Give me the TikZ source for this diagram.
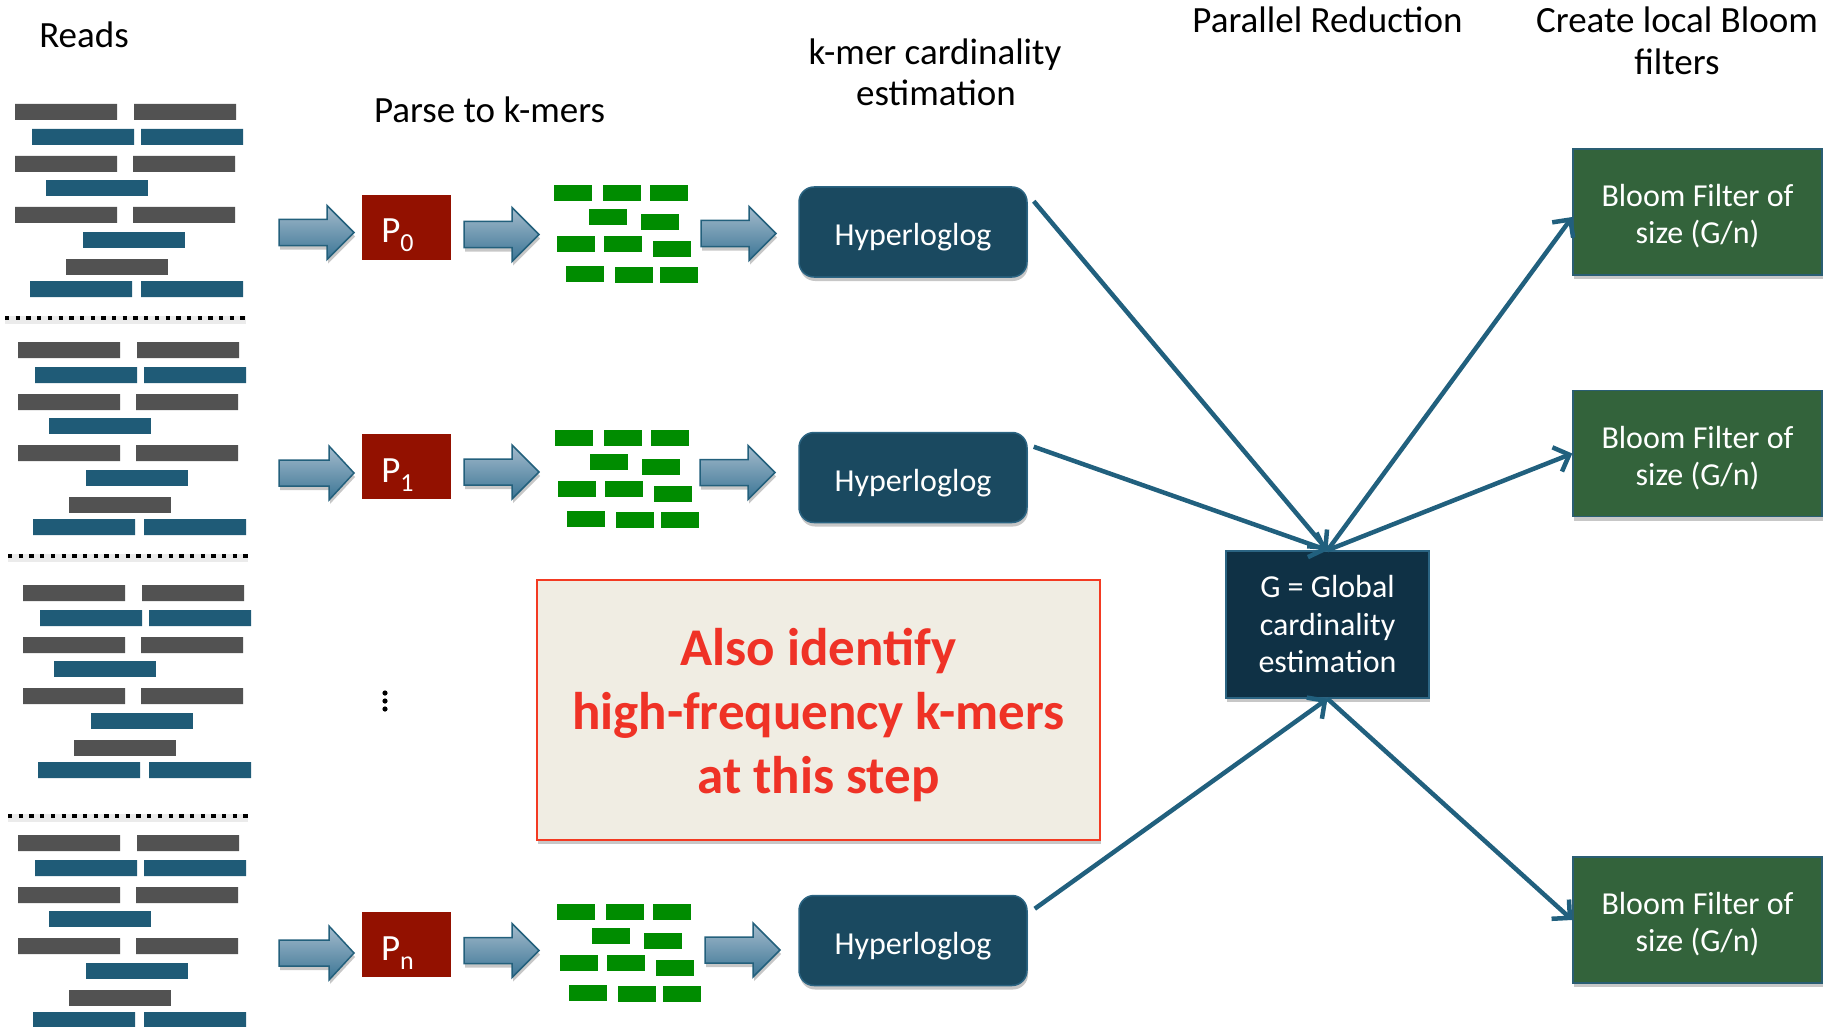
\documentclass[tikz,border=0pt]{standalone}
\usepackage{fontspec}
\setmainfont{Carlito}
\usetikzlibrary{arrows.meta,shadows}

\definecolor{readgray}{HTML}{525252}
\definecolor{readblue}{HTML}{1F5B77}
\definecolor{kmergreen}{HTML}{008C00}
\definecolor{procred}{HTML}{931100}
\definecolor{hllblue}{HTML}{1A4960}
\definecolor{hlledge}{HTML}{2B6482}
\definecolor{globalblue}{HTML}{0F3145}
\definecolor{bloomgreen}{HTML}{33633B}
\definecolor{bloomedge}{HTML}{2A5E73}
\definecolor{edgeblue}{HTML}{21607E}
\definecolor{noteback}{HTML}{F0EDE3}
\definecolor{notered}{HTML}{F33A22}
\definecolor{notetext}{HTML}{EF3226}
\definecolor{arrowtop}{HTML}{A4BBCC}
\definecolor{arrowbot}{HTML}{3B7595}
\definecolor{arrowedge}{HTML}{23607C}

% one block of short reads, top-left corner at (#1,#2)
\newcommand\readblock[2]{%
  \begin{scope}[shift={(#1,#2)}]
    \fill[readgray] (0,0) rectangle ++(102,16) (119,0) rectangle ++(102,16);
    \fill[readblue] (17,25) rectangle ++(102,16) (126,25) rectangle ++(102,16);
    \fill[readgray] (0,52) rectangle ++(102,16) (118,52) rectangle ++(102,16);
    \fill[readblue] (31,76) rectangle ++(102,16);
    \fill[readgray] (0,103) rectangle ++(102,16) (118,103) rectangle ++(102,16);
    \fill[readblue] (68,128) rectangle ++(102,16);
    \fill[readgray] (51,155) rectangle ++(102,16);
    \fill[readblue] (15,177) rectangle ++(102,16) (126,177) rectangle ++(102,16);
  \end{scope}}

% a heap of k-mers, top-left corner at (#1,#2)
\newcommand\kmerblock[2]{%
  \begin{scope}[shift={(#1,#2)}]
    \foreach \a/\b in {0/0,49/0,96/0,35/24,87/29,3/51,50/51,99/56,12/81,61/82,106/82}
      \fill[kmergreen] (\a,\b) rectangle ++(38,16);
  \end{scope}}

% shaded block arrow: tail x, centre y, head start offset
\newcommand\blockarrow[3]{%
  \shade[arrowshape] (#1,#2-13) -- (#1+#3,#2-13) -- (#1+#3,#2-27) -- (#1+75,#2)
    -- (#1+#3,#2+27) -- (#1+#3,#2+13) -- (#1,#2+13) -- cycle;}

% processor label with subscript, set a little left of centre
\newcommand\proclabel[1]{P\raisebox{-9pt}{\fontsize{26}{26}\selectfont #1}\rule{18pt}{0pt}}

\begin{document}
\begin{tikzpicture}[x=1pt,y=-1pt,
  ttl/.style={font=\fontsize{37}{42}\selectfont, inner sep=0pt},
  softshadow/.style={drop shadow={shadow xshift=1pt,shadow yshift=-4pt,opacity=0.22,fill=black}},
  proc/.style={fill=procred, minimum width=89pt, minimum height=65pt, inner sep=0pt,
    text=white, font=\fontsize{37}{40}\selectfont, text height=31pt, text depth=0pt},
  hll/.style={fill=hllblue, draw=hlledge, line width=1.5pt, rounded corners=15pt,
    minimum width=228pt, minimum height=90pt, inner sep=0pt, text=white,
    font=\fontsize{32}{37}\selectfont, text height=28pt, text depth=0pt, softshadow},
  gbox/.style={fill=globalblue, draw=hlledge, line width=1.5pt, minimum width=203pt,
    minimum height=147pt, inner sep=0pt, text=white, align=center,
    font=\fontsize{32}{37.5}\selectfont, softshadow},
  bloombox/.style={fill=bloomgreen, draw=bloomedge, line width=1.5pt, minimum width=249pt,
    minimum height=126pt, inner sep=0pt, text=white, align=center,
    font=\fontsize{32}{37}\selectfont, softshadow},
  notebox/.style={fill=noteback, draw=notered, line width=2pt, minimum width=563pt,
    minimum height=260pt, inner sep=0pt, text=notetext, align=center,
    font=\fontsize{53}{64}\selectfont\bfseries, softshadow},
  conn/.style={draw=edgeblue, line width=4.5pt, -{Straight Barb[length=13pt,width=26pt]}},
  sepline/.style={line width=4pt, dash pattern=on 4.3pt off 6.4pt},
  arrowshape/.style={top color=arrowtop, bottom color=arrowbot, draw=arrowedge,
    line width=1.5pt, softshadow}]

\useasboundingbox (0,0) rectangle (1839,1027);

% column headings
\node[ttl,anchor=base] (treads) at (84,48) {Reads};
\node[ttl,anchor=base] (tparse) at (489.5,123) {Parse to k-mers};
\node[ttl,anchor=base] (tcard) at (935,65) {k-mer cardinality};
\node[ttl,anchor=base] (tcardb) at (936,106) {estimation};
\node[ttl,anchor=base] (tred) at (1327.5,33) {Parallel Reduction};
\node[ttl,anchor=base] (tbloom) at (1677,33) {Create local Bloom};
\node[ttl,anchor=base] (tbloomb) at (1677,75) {filters};

% reads, split into partitions
\readblock{15}{104}
\readblock{18}{342}
\readblock{23}{585}
\readblock{18}{835}
\foreach \yy/\xa/\xb in {318/5/246, 556/8/248, 816/8/248}{
  \draw[line width=8pt, black!8] (\xa,\yy+2) -- (\xb,\yy+2);
  \draw[sepline] (\xa,\yy) -- (\xb,\yy);
}

% block arrows
\blockarrow{279}{232.5}{48}
\blockarrow{464}{234.5}{48}
\blockarrow{701}{233.5}{48}
\blockarrow{279}{473}{50}
\blockarrow{464}{472}{48}
\blockarrow{700}{472.5}{48}
\blockarrow{279}{953}{50}
\blockarrow{464}{950.5}{48}
\blockarrow{705}{950}{48}

% processors
\node[proc] (p0) at (406.5,227.5) {\proclabel{0}};
\node[proc] (p1) at (406.5,466.5) {\proclabel{1}};
\node[proc] (pn) at (406.5,944.5) {\proclabel{n}};

% vertical ellipsis
\foreach \yy in {693,701,709} \fill (385,\yy) circle (2.6);

% k-mers
\kmerblock{554}{185}
\kmerblock{555}{430}
\kmerblock{557}{904}

% cardinality estimators
\node[hll] (hll1) at (913,232) {Hyperloglog};
\node[hll] (hll2) at (913,477.5) {Hyperloglog};
\node[hll] (hll3) at (913,940.5) {Hyperloglog};

% note
\node[notebox] (note) at (818.5,710)
  {\rule{0pt}{47pt}Also identify\\high-frequency k-mers\\at this step};

% global estimate
\node[gbox] (g) at (1327.5,624.5) {G = Global\\cardinality\\estimation};

% Bloom filters
\node[bloombox] (bloom1) at (1697.5,212) {\rule{0pt}{31pt}Bloom Filter of\\size (G/n)};
\node[bloombox] (bloom2) at (1697.5,453.5) {\rule{0pt}{31pt}Bloom Filter of\\size (G/n)};
\node[bloombox] (bloom3) at (1697.5,920) {\rule{0pt}{31pt}Bloom Filter of\\size (G/n)};

% reduction and broadcast
\draw[conn] ([xshift=6pt,yshift=-15pt]hll1.north east) -- (g.north);
\draw[conn] ([xshift=6pt,yshift=-15pt]hll2.north east) -- (g.north);
\draw[conn] ([xshift=7pt,yshift=-14pt]hll3.north east) -- (g.south);
\draw[conn] (g.north) -- ([yshift=-5pt]bloom1.west);
\draw[conn] (g.north) -- (bloom2.west);
\draw[conn] (g.south) -- (bloom3.west);

\end{tikzpicture}
\end{document}
